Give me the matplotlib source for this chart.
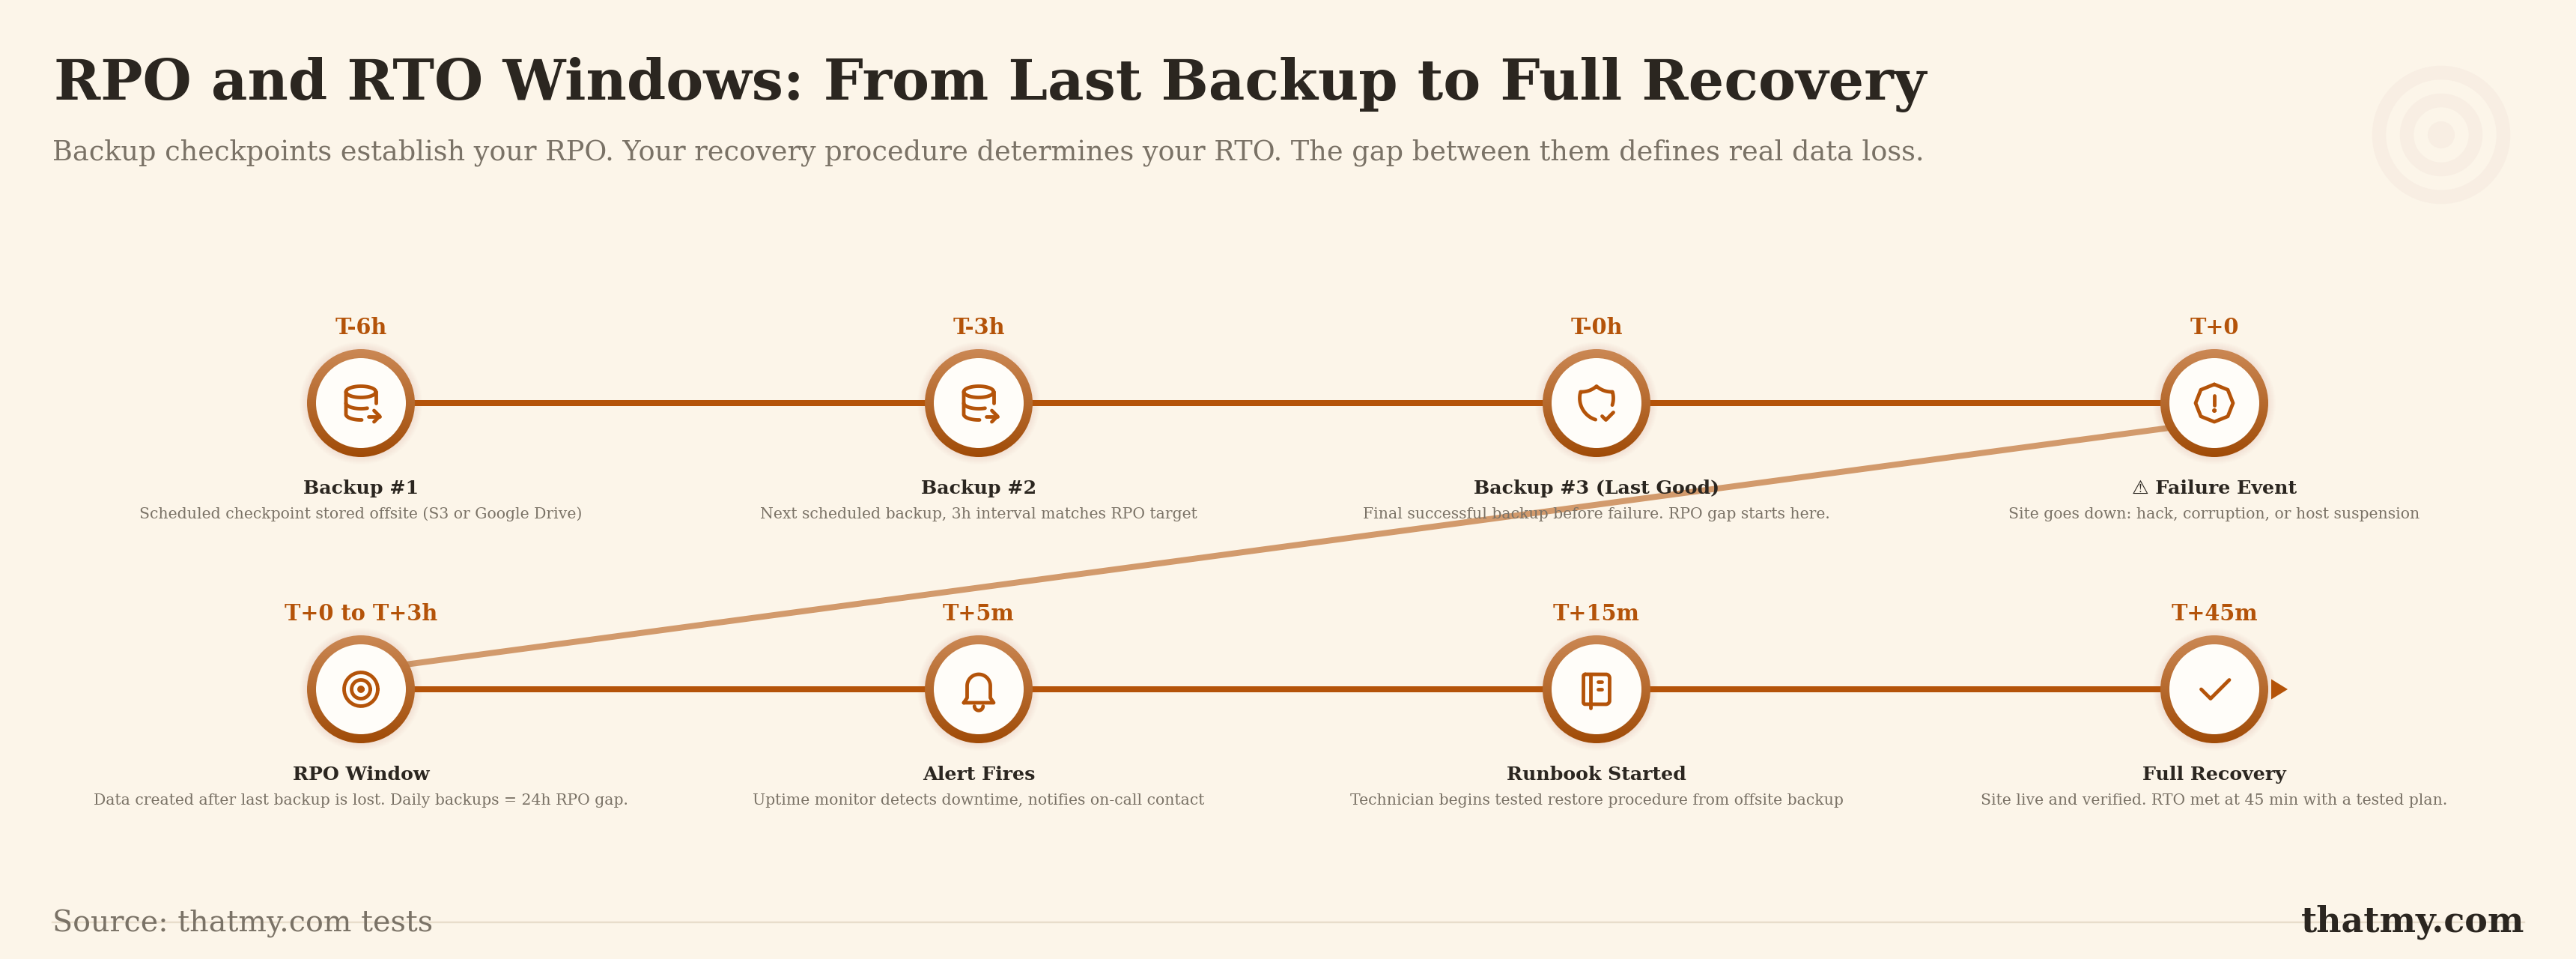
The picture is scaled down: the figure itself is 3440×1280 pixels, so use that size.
import numpy as np
import matplotlib
matplotlib.use('Agg')
import matplotlib.pyplot as plt
from matplotlib.colors import LinearSegmentedColormap
from matplotlib.lines import Line2D
from matplotlib.patches import Circle, PathPatch, Polygon
from matplotlib.path import Path
from matplotlib.transforms import Affine2D

plt.rcParams['font.family'] = ['DejaVu Serif', 'DejaVu Sans']

## chart content
title = 'RPO and RTO Windows: From Last Backup to Full Recovery'
subtitle = ('Backup checkpoints establish your RPO. Your recovery procedure determines your RTO. '
            'The gap between them defines real data loss.')
source = 'Source: thatmy.com tests'
brand = 'thatmy.com'

columns = [0, 1, 2, 3, 0, 1, 2, 3]
rows = [0, 0, 0, 0, 1, 1, 1, 1]
times = ['T-6h', 'T-3h', 'T-0h', 'T+0', 'T+0 to T+3h', 'T+5m', 'T+15m', 'T+45m']
names = ['Backup #1', 'Backup #2', 'Backup #3 (Last Good)', '\u26a0 Failure Event',
         'RPO Window', 'Alert Fires', 'Runbook Started', 'Full Recovery']
notes = ['Scheduled checkpoint stored offsite (S3 or Google Drive)',
         'Next scheduled backup, 3h interval matches RPO target',
         'Final successful backup before failure. RPO gap starts here.',
         'Site goes down: hack, corruption, or host suspension',
         'Data created after last backup is lost. Daily backups = 24h RPO gap.',
         'Uptime monitor detects downtime, notifies on-call contact',
         'Technician begins tested restore procedure from offsite backup',
         'Site live and verified. RTO met at 45 min with a tested plan.']
icons = ['database', 'database', 'shield', 'octagon', 'target', 'bell', 'notebook', 'check']

BG = '#FCF5E9'
INK = '#2B2620'
MUTED = '#7A7266'
ACCENT = '#B45309'
WRAP = '#D29A6C'
RULE = '#E8DDCB'
MARK = '#F8EEE3'

W, H = 3440, 1280
COL_X0, COL_DX = 482, 825
ROW_Y0, ROW_DY = 538, 382
PX_PT = 0.72


def ell(cx, cy, rx, ry, t0, t1, n=40):
    t = np.radians(np.linspace(t0, t1, n))
    return np.column_stack([cx + rx * np.cos(t), cy + ry * np.sin(t)])


def arc(p0, p1, r, sweep, n=24):
    # svg style arc between two points, y axis pointing down
    p0, p1 = np.array(p0, float), np.array(p1, float)
    mid = (p0 + p1) / 2
    d = p1 - p0
    h = np.sqrt(max(r**2 - (d @ d) / 4, 0))
    normal = np.array([-d[1], d[0]]) / np.hypot(*d)
    c = mid + normal * h * (1 if sweep else -1)
    a0 = np.arctan2(*(p0 - c)[::-1])
    a1 = np.arctan2(*(p1 - c)[::-1])
    if sweep and a1 < a0:
        a1 += 2 * np.pi
    if not sweep and a1 > a0:
        a1 -= 2 * np.pi
    t = np.linspace(a0, a1, n)
    return np.column_stack([c[0] + r * np.cos(t), c[1] + r * np.sin(t)])


def chain(*parts):
    return np.vstack([np.atleast_2d(p) for p in parts])


# outlines on a 24 unit grid, as in the icon set
shapes = {
    'database': [
        ell(12, 6, 8, 3, 0, 360),
        chain([4, 6], ell(12, 12, 8, 3, 180, 65)),
        [[20, 12], [20, 6]],
        chain([4, 12], ell(12, 18, 8, 3, 180, 87)),
        [[16, 19], [22, 19]],
        [[19, 16], [22, 19], [19, 22]],
    ],
    'shield': [
        chain(arc([11.46, 20.846], [3.5, 6], 12, True),
              arc([3.5, 6], [12, 3], 12, False),
              arc([12, 3], [20.5, 6], 12, False),
              arc([20.5, 6], [20.41, 13.06], 12, True)),
        [[15, 19], [17, 21], [21, 17]],
    ],
    'octagon': [
        [[12, 2], [19.2, 4.9], [22, 12], [19.2, 19.1], [12, 22], [4.8, 19.1], [2, 12], [4.8, 4.9], [12, 2]],
        [[12, 8], [12, 13]],
        ell(12, 16, 0.25, 0.25, 0, 360, n=12),
    ],
    'target': [
        ell(12, 12, 9, 9, 0, 360),
        ell(12, 12, 5, 5, 0, 360),
        ell(12, 12, 1, 1, 0, 360),
    ],
    'bell': [
        chain([4, 19.2], [20, 19.2], [18.2, 16.6], ell(12, 10.2, 6.2, 6.2, 0, -180), [5.8, 16.6], [4, 19.2]),
        ell(12, 21, 2.3, 2.3, 0, 180),
    ],
    'notebook': [
        chain([6, 4], ell(17, 6, 2, 2, -90, 0), ell(17, 18, 2, 2, 0, 90), ell(6, 19, 1, 1, 90, 180),
              ell(6, 5, 1, 1, 180, 270)),
        [[9, 4], [9, 22]],
        [[13, 8], [15, 8]],
        [[13, 12], [15, 12]],
    ],
    'check': [
        [[5, 12], [10, 17], [20, 7]],
    ],
}

fig = plt.figure(figsize=(W / 100, H / 100), dpi=100, facecolor=BG)
ax = fig.add_axes([0, 0, 1, 1])
ax.set_xlim(-COL_X0 / COL_DX, (W - COL_X0) / COL_DX)
ax.set_ylim((H - ROW_Y0) / ROW_DY, -ROW_Y0 / ROW_DY)
ax.axis('off')

# connectors
for row in sorted(set(rows)):
    xs = [c for c, r in zip(columns, rows) if r == row]
    ax.plot([min(xs), max(xs)], [row, row], color=ACCENT, lw=8 * PX_PT, zorder=2, solid_capstyle='butt')
wrap_offset = 25 / ROW_DY
ax.plot([columns[7], columns[0]], [rows[0] + wrap_offset, rows[7] - wrap_offset],
        color=WRAP, lw=8 * PX_PT, zorder=1, solid_capstyle='butt')

ring_cmap = LinearSegmentedColormap.from_list('ring', ['#CB8854', '#A04B07'])
gradient = np.linspace(0, 1, 256).reshape(-1, 1)

for col, row, time_label, name, note, icon in zip(columns, rows, times, names, notes, icons):
    cx, cy = ax.transData.transform((col, row))
    node = Affine2D().translate(cx, cy)

    # soft shadow around the ring
    for k in range(1, 11):
        ax.add_patch(Circle((0, 0), 72 + k, transform=node, fc=ACCENT, ec='none', alpha=0.008, zorder=3))

    clip = Circle((0, 0), 72, transform=node, fc='none', ec='none')
    ax.add_patch(clip)
    im = ax.imshow(gradient, extent=(-72, 72, -72, 72), origin='upper', cmap=ring_cmap, aspect='auto',
                   transform=node, zorder=4)
    im.set_clip_path(clip)
    ax.add_patch(Circle((0, 0), 60, transform=node, fc='#FFFDF9', ec='none', zorder=5))

    glyph = Affine2D().translate(-12, -12).scale(2.5, -2.5).translate(cx, cy)
    for line in shapes[icon]:
        ax.add_patch(PathPatch(Path(np.asarray(line, float)), transform=glyph, fc='none', ec=ACCENT,
                               lw=4.8 * PX_PT, capstyle='round', joinstyle='round', zorder=6))

    ax.annotate(time_label, (col, row), xytext=(0, 92), textcoords='offset pixels', ha='center', va='baseline',
                fontsize=20.7, fontweight='bold', color=ACCENT, zorder=7)
    ax.annotate(name, (col, row), xytext=(0, -121), textcoords='offset pixels', ha='center', va='baseline',
                fontsize=18.2, fontweight='bold', color=INK, zorder=7)
    ax.annotate(note, (col, row), xytext=(0, -154), textcoords='offset pixels', ha='center', va='baseline',
                fontsize=14.7, color=MUTED, zorder=7)

# end arrow on the last node
cx, cy = ax.transData.transform((columns[7], rows[7]))
ax.add_patch(Polygon([[76, -13.5], [76, 13.5], [98, 0]], transform=Affine2D().translate(cx, cy),
                     fc=ACCENT, ec='none', zorder=3))

# header
fig.text(72 / W, 1 - 133 / H, title, fontsize=53.9, fontweight='bold', color=INK, va='baseline')
fig.text(70 / W, 1 - 213 / H, subtitle, fontsize=26.4, color=MUTED, va='baseline')

# watermark target top right
mark = Affine2D().translate(3260, H - 180)
for r, w in zip([83, 46, 9], [18.5, 18.5, 18]):
    ax.add_patch(Circle((0, 0), r, transform=mark, fc='none', ec=MARK, lw=w * PX_PT, zorder=0))

# footer
fig.add_artist(Line2D([70 / W, 3371 / W], [1 - 1231 / H, 1 - 1231 / H], color=RULE, lw=2.4 * PX_PT, zorder=0))
fig.text(70 / W, 1 - 1243 / H, source, fontsize=28.5, color=MUTED, va='baseline', zorder=2)
fig.text(3371 / W, 1 - 1243 / H, brand, fontsize=33, fontweight='bold', color=INK, ha='right', va='baseline', zorder=2)

fig.savefig('out.png', dpi=100, facecolor=BG)
